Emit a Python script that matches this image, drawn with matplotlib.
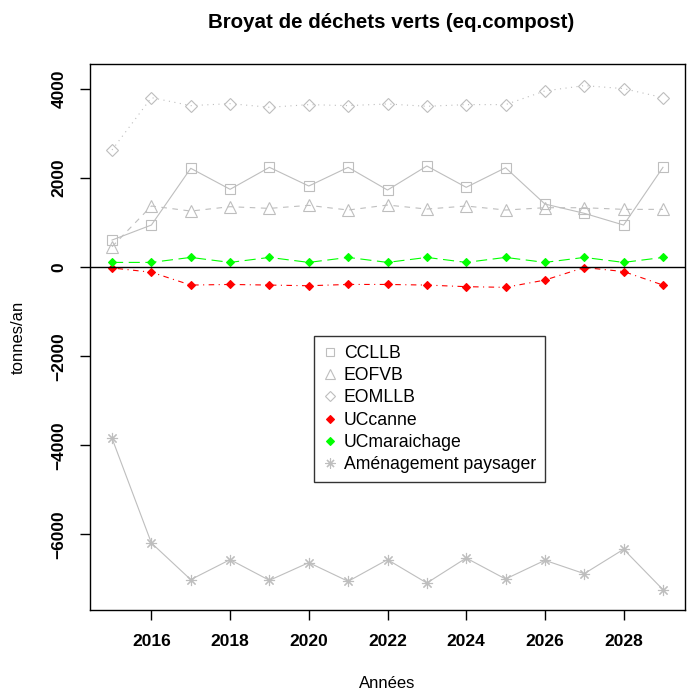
"""Broyat de déchets verts (eq.compost) - recreated R base-style line chart."""

import numpy as np
import matplotlib
matplotlib.use("Agg")
import matplotlib.pyplot as plt

plt.rcParams["font.family"] = ["Liberation Sans", "DejaVu Sans"]

YEARS = list(range(2015, 2030))

CCLLB = [607, 944, 2218, 1746, 2240, 1820, 2240, 1730, 2270, 1791, 2231, 1416, 1207, 944, 2240]
EOFVB = [457, 1371, 1258, 1356, 1318, 1386, 1281, 1393, 1303, 1371, 1281, 1333, 1333, 1296, 1296]
EOMLLB = [2630, 3805, 3625, 3670, 3588, 3648, 3625, 3663, 3610, 3648, 3648, 3955, 4075, 4007, 3805]
UCCANNE = [-20, -115, -404, -390, -404, -419, -390, -390, -404, -440, -455, -292, -10, -100, -404]
UCMARAICHAGE = [105, 105, 217, 105, 217, 105, 217, 105, 217, 105, 217, 105, 217, 105, 217]
AMENAGEMENT = [-3845, -6195, -7018, -6569, -7034, -6636, -7056, -6569, -7094, -6533, -7004,
               -6584, -6884, -6337, -7243]

GREY = "#BEBEBE"
SERIES = [
    ("CCLLB", CCLLB, dict(color=GREY, ls="-", marker="s", mfc="none", ms=6.5)),
    ("EOFVB", EOFVB, dict(color=GREY, ls=(0, (5, 5)), marker="^", mfc="none", ms=8)),
    ("EOMLLB", EOMLLB, dict(color=GREY, ls=(0, (1, 4)), marker="D", mfc="none", ms=6)),
    ("UCcanne", UCCANNE, dict(color="#FF0000", ls=(0, (1, 4, 5, 4)), marker="D", ms=4.5)),
    ("UCmaraichage", UCMARAICHAGE, dict(color="#00FF00", ls=(0, (10, 5)), marker="D", ms=4.5)),
    ("Aménagement paysager", AMENAGEMENT, dict(color=GREY, ls="-", marker=(8, 2, 0), ms=8)),
]

fig = plt.figure(figsize=(6.93, 6.91), dpi=100)
ax = fig.add_axes([90 / 693, 1 - 610 / 691, 595 / 693, 546 / 691])

handles = []
for name, vals, style in SERIES:
    ax.plot(YEARS, vals, lw=0.8, mew=0.8, **style)
    h, = ax.plot([], [], ls="none", color=style["color"], marker=style["marker"],
                 mfc=style.get("mfc", style["color"]), ms=style["ms"] * 0.9, mew=0.8,
                 label=name)
    handles.append(h)

ax.axhline(0, color="black", lw=1)

ax.set_xlim(2014.44, 2029.56)
ax.set_ylim(-7700, 4560)
ax.set_xticks(np.arange(2016, 2029, 2))
ax.set_yticks(np.arange(-6000, 4001, 2000))
ax.tick_params(direction="out", length=7, width=1, labelsize=12.5, pad=10)
ax.tick_params(axis="y", labelrotation=90)
for lab in ax.get_xticklabels() + ax.get_yticklabels():
    lab.set_fontweight("bold")
for lab in ax.get_yticklabels():
    lab.set_va("center")
for sp in ax.spines.values():
    sp.set_linewidth(1)

ax.set_xlabel("Années", fontsize=12)
ax.xaxis.set_label_coords(0.5, (610 - 676) / 546)
ax.xaxis.label.set_va("top")
ax.set_ylabel("tonnes/an", fontsize=12)
ax.yaxis.set_label_coords((26 - 90) / 595, 0.5)

fig.text(391 / 693, 1 - 22 / 691, "Broyat de déchets verts (eq.compost)", fontsize=14.8,
         fontweight="bold", ha="center", va="center")

leg = ax.legend(handles=handles, loc="upper left",
                bbox_to_anchor=((314 - 90) / 595, (610 - 336) / 546),
                fontsize=12.7, frameon=True, fancybox=False, handlelength=0.8,
                handletextpad=0.4, labelspacing=0.3, borderpad=0.5, borderaxespad=0)
leg.get_frame().set_edgecolor("black")
leg.get_frame().set_linewidth(1)

fig.savefig("out.png", dpi=100)
